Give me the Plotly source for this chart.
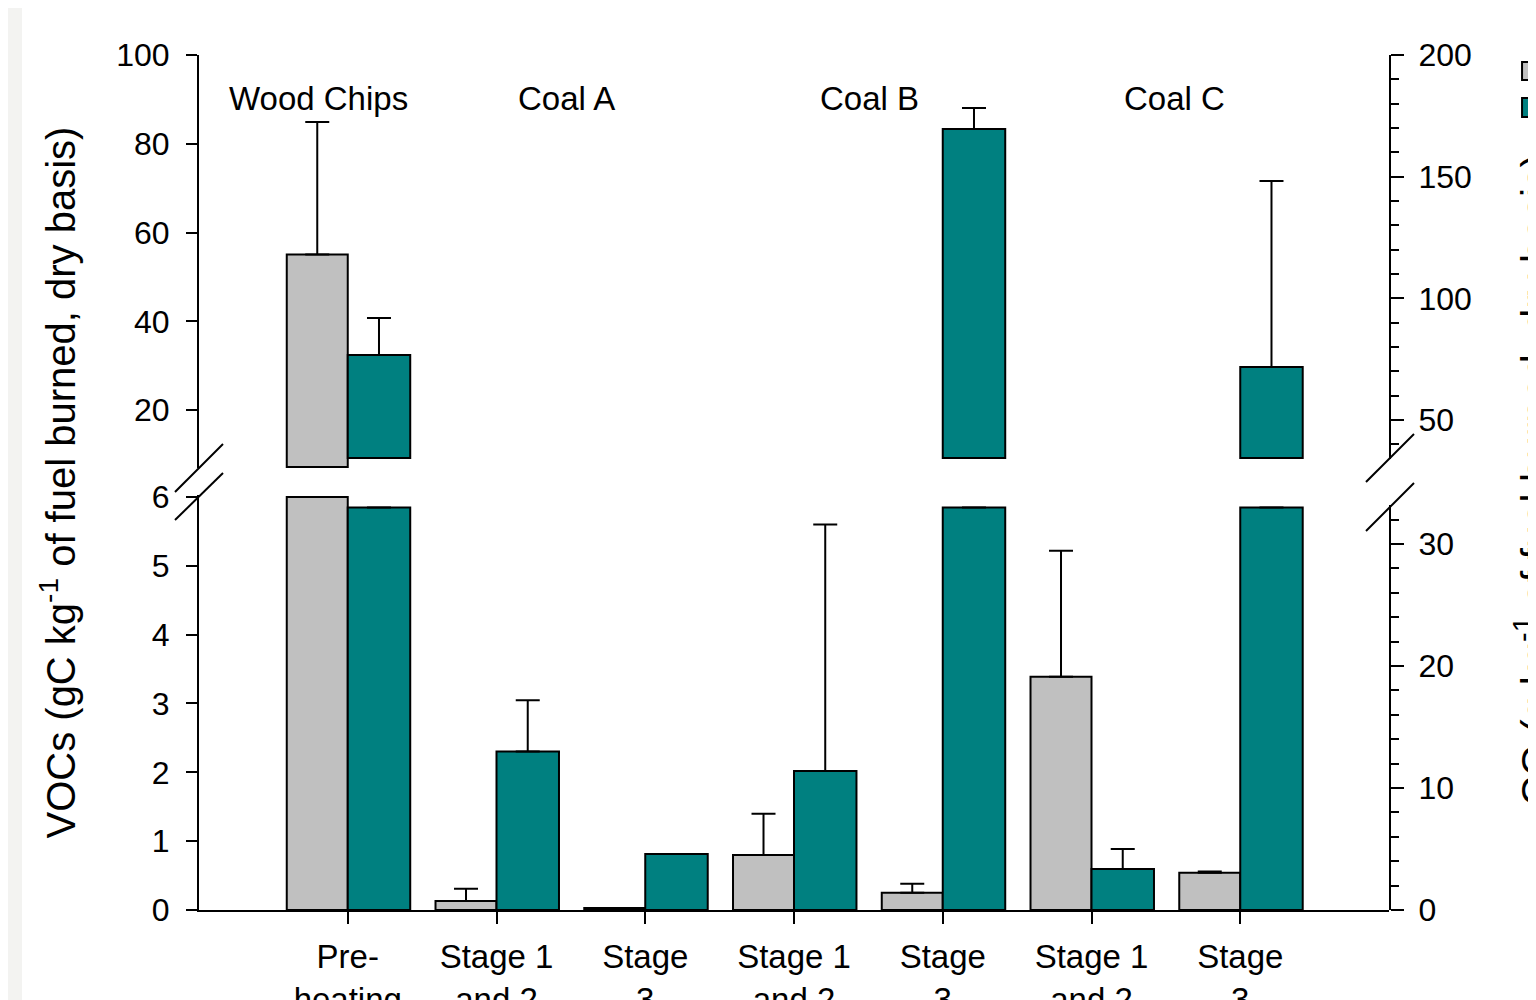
import plotly.graph_objects as go

# ---------------- data ----------------
categories = ["Pre-<br>heating", "Stage 1<br>and 2", "Stage<br>3",
              "Stage 1<br>and 2", "Stage<br>3", "Stage 1<br>and 2", "Stage<br>3"]
fuels = ["Wood Chips", "Coal A", "Coal B", "Coal C"]
fuel_pos = [-0.2, 1.47, 3.51, 5.56]

voc = [55.1, 0.13, 0.03, 0.80, 0.25, 3.39, 0.54]
voc_err = [29.8, 0.18, 0.0, 0.60, 0.13, 1.83, 0.02]
co = [76.7, 13.0, 4.6, 11.4, 169.6, 3.36, 71.8]
co_err = [15.2, 4.2, 0.0, 20.2, 8.6, 1.64, 76.4]

# broken-axis segments
voc_low_max, voc_high_min = 6.0, 7.2
co_low_max, co_high_min = 33.0, 34.4

voc_low_ticks = [0, 1, 2, 3, 4, 5, 6]
voc_high_ticks = [20, 40, 60, 80, 100]
co_low_ticks = [0, 10, 20, 30]
co_high_ticks = [50, 100, 150, 200]

GRAY = "#C0C0C0"
TEAL = "#008080"
FONT = "Liberation Sans, Arial, sans-serif"

x = list(range(len(categories)))

def low_part(vals, errs, cap):
    ys = [min(v, cap) for v in vals]
    es = [e if v <= cap else 0 for v, e in zip(vals, errs)]
    return ys, es

def high_part(vals, errs, base):
    ys = [v - base if v > base else None for v in vals]
    es = [e if v > base else 0 for v, e in zip(vals, errs)]
    return ys, es

fig = go.Figure()

line = dict(color="black", width=2)

def add_bars(ya, ys, es, base, color, name, offset, width):
    fig.add_trace(go.Bar(
        x=x, y=ys, base=base, xaxis="x", yaxis=ya,
        name=name, legendgroup=name, showlegend=False,
        marker=dict(color=color, line=line),
        offset=offset, width=width,
        error_y=dict(type="data", array=es, arrayminus=[0] * len(es),
                     symmetric=False, visible=True, color="black",
                     thickness=2, width=12),
    ))

vy, ve = low_part(voc, voc_err, voc_low_max)
add_bars("y", vy, ve, 0, GRAY, "VOCs", -0.41, 0.41)
vy2, ve2 = high_part(voc, voc_err, voc_high_min)
add_bars("y2", vy2, ve2, voc_high_min, GRAY, "VOCs", -0.41, 0.41)
cy, ce = low_part(co, co_err, co_low_max)
add_bars("y3", cy, ce, 0, TEAL, "CO", 0.0, 0.42)
cy2, ce2 = high_part(co, co_err, co_high_min)
add_bars("y4", cy2, ce2, co_high_min, TEAL, "CO", 0.0, 0.42)

axis_common = dict(showline=True, linecolor="black", linewidth=2, ticks="outside",
                   tickcolor="black", tickwidth=2, showgrid=False, zeroline=False,
                   automargin=False,
                   tickfont=dict(family=FONT, size=32, color="black"))

ML, MT, PW, PH = 191, 47, 1190, 855

fig.update_layout(
    width=1536, height=1000,
    margin=dict(l=ML, r=1536 - ML - PW, t=MT, b=1000 - MT - PH, autoexpand=False),
    paper_bgcolor="white", plot_bgcolor="rgba(0,0,0,0)",
    font=dict(family=FONT, color="black"),
    barmode="overlay", showlegend=False,
    xaxis=dict(range=[-1, 7], tickvals=x, ticktext=categories, anchor="y",
               showline=True, linecolor="black", linewidth=2, ticks="outside",
               ticklen=12, tickcolor="black", tickwidth=2, showgrid=False,
               zeroline=False, automargin=False, ticklabelstandoff=4,
               tickfont=dict(family=FONT, size=33, color="black")),
    xaxis2=dict(range=[-1, 7], overlaying="x", anchor="y2", side="top",
                showline=True, linecolor="black", linewidth=2, ticks="",
                showticklabels=False, showgrid=False, zeroline=False,
                automargin=False),
    yaxis=dict(domain=[0, 0.4855], range=[0, 6.03], tickvals=voc_low_ticks,
               anchor="x", side="left", ticklen=11, ticklabelstandoff=10,
               **axis_common),
    yaxis2=dict(domain=[0.5170, 1], range=[7.0, 100], tickvals=voc_high_ticks,
                anchor="x", side="left", ticklen=11, ticklabelstandoff=10,
                **axis_common),
    yaxis3=dict(domain=[0, 0.4737], range=[0, 33.2], tickvals=co_low_ticks,
                anchor="x", side="right", ticklen=13, ticklabelstandoff=8,
                minor=dict(dtick=2, ticks="outside", ticklen=8, tickwidth=2,
                           tickcolor="black"),
                **axis_common),
    yaxis4=dict(domain=[0.5275, 1], range=[34.0, 200], tickvals=co_high_ticks,
                anchor="x", side="right", ticklen=13, ticklabelstandoff=8,
                minor=dict(dtick=10, ticks="outside", ticklen=8, tickwidth=2,
                           tickcolor="black"),
                **axis_common),
)

annotations = []
for f, p in zip(fuels, fuel_pos):
    annotations.append(dict(text=f, x=p, xref="x", y=0.9497, yref="paper",
                            showarrow=False, xanchor="center", yanchor="middle",
                            font=dict(family=FONT, size=33, color="black")))
annotations.append(dict(text="VOCs (gC kg<sup>-1</sup> of fuel burned, dry basis)",
                        x=-0.1185, xref="paper", y=0.5, yref="paper", textangle=-90,
                        showarrow=False, xanchor="center", yanchor="middle",
                        font=dict(family=FONT, size=40, color="black")))
annotations.append(dict(text="CO (g kg<sup>-1</sup> of fuel burned, dry basis)",
                        x=1.121, xref="paper", y=0.503, yref="paper", textangle=-90,
                        showarrow=False, xanchor="center", yanchor="middle",
                        font=dict(family=FONT, size=41, color="black")))
fig.update_layout(annotations=annotations)

shapes = []
# axis break marks
for (x0, x1, y0, y1) in [(-0.02017, 0.02017, 0.4889, 0.5450),
                         (-0.02017, 0.02017, 0.4561, 0.5111),
                         (0.98067, 1.02101, 0.5006, 0.5567),
                         (0.98067, 1.02101, 0.4433, 0.4994)]:
    shapes.append(dict(type="line", xref="paper", yref="paper", x0=x0, x1=x1,
                       y0=y0, y1=y1, line=dict(color="black", width=2)))
# legend swatches (labels fall beyond the right page edge)
for color, (y0, y1) in [(GRAY, (0.9708, 0.9918)), (TEAL, (0.9275, 0.9497))]:
    shapes.append(dict(type="rect", xref="paper", yref="paper", x0=1.1118, x1=1.1277,
                       y0=y0, y1=y1, fillcolor=color,
                       line=dict(color="black", width=2)))
# faint strip at left page edge
shapes.append(dict(type="rect", xref="paper", yref="paper", x0=-ML / PW, x1=(14 - ML) / PW,
                   y0=-(1000 - MT - PH) / PH, y1=1 + MT / PH, fillcolor="#f3f3f1",
                   line=dict(width=0), layer="below"))
fig.update_layout(shapes=shapes)

fig.write_html("out.html")
